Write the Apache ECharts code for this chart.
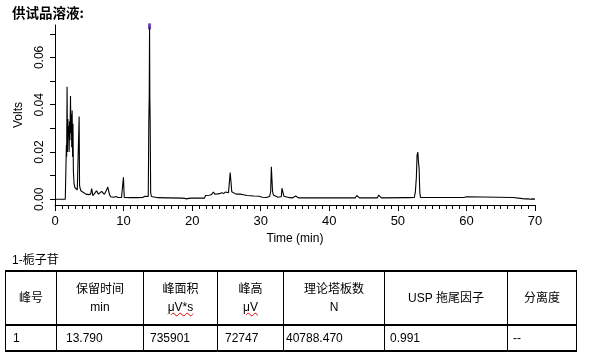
<!DOCTYPE html>
<html>
<head>
<meta charset="utf-8">
<script src="https://cdn.jsdelivr.net/npm/echarts@6/dist/echarts.min.js"></script>
<style>
  html, body { margin: 0; padding: 0; background: #fff; }
  #wrap { position: relative; width: 590px; height: 359px; overflow: hidden; }
  #chart { position: absolute; left: 0; top: 0; width: 590px; height: 359px; }
  .txt { position: absolute; font-family: "Liberation Sans", Arial, "Noto Sans CJK SC", sans-serif; color: #000; white-space: nowrap; }
  #title { left: 12px; top: 2px; font-size: 13.5px; font-weight: bold; font-family: "Noto Sans CJK SC", sans-serif; }
  #cmpd { left: 12px; top: 250px; font-size: 12px; }
  table { position: absolute; left: 5px; top: 270px; border-collapse: collapse; table-layout: fixed;
          font-family: "Liberation Sans", Arial, "Noto Sans CJK SC", sans-serif; font-size: 12px; color: #000; }
  td { border-left: 1px solid #000; border-right: 1px solid #000; border-top: 2px solid #000; border-bottom: 2px solid #000;
       padding: 0; overflow: hidden; white-space: nowrap; }
  tr.h td { height: 52px; text-align: center; line-height: 18px; }
  tr.d td { height: 24px; text-align: left; }
  .u { text-decoration: underline wavy #e00000; text-decoration-thickness: 1px; }
</style>
</head>
<body>
<div id="wrap">
  <div id="chart"></div>
  <div id="title" class="txt">供试品溶液:</div>
  <div id="cmpd" class="txt">1-栀子苷</div>
  <table id="tbl"></table>
</div>
<script>
// ---- chromatogram data ----
const times = [0, 1.5, 1.62, 1.66, 1.70, 1.76, 1.82, 1.88, 1.94, 2.00, 2.06, 2.12, 2.18, 2.26, 2.32, 2.38, 2.44, 2.50, 2.56, 2.62, 2.68, 2.78, 2.9, 3.05, 3.25, 3.45, 3.52, 3.58, 3.65, 3.8, 4.1, 4.5, 4.9, 5.2, 5.35, 5.45, 5.52, 5.8, 6.05, 6.2, 6.35, 6.6, 6.8, 7.0, 7.2, 7.45, 7.7, 7.85, 7.95, 8.1, 8.6, 8.9, 9.2, 9.7, 9.92, 9.98, 10.05, 10.1, 11, 12, 12.8, 13.1, 13.3, 13.6, 13.68, 13.74, 13.79, 13.83, 13.88, 13.95, 14.05, 14.3, 15, 16.3, 16.5, 16.7, 18.5, 18.7, 18.9, 19.2, 19.5, 20.0, 21.0, 21.8, 21.95, 22.2, 22.5, 22.8, 23.1, 23.3, 23.7, 24.0, 24.3, 24.6, 24.9, 25.3, 25.5, 25.55, 25.62, 25.72, 25.78, 26.0, 26.4, 27.0, 27.5, 28.0, 29.0, 29.8, 30.2, 30.8, 31.3, 31.45, 31.55, 31.65, 31.72, 31.85, 32.5, 33.0, 33.1, 33.3, 33.38, 33.6, 34.2, 34.4, 34.6, 35.1, 35.3, 35.5, 40, 43.8, 44.0, 44.2, 44.4, 47.0, 47.2, 47.4, 47.6, 51.3, 51.45, 51.6, 52.4, 52.55, 52.7, 52.8, 52.92, 53.0, 53.1, 53.2, 53.3, 59.6, 59.8, 60.0, 60.2, 66.8, 67.0, 68.2, 68.4, 68.6, 68.8, 69.0, 69.3, 69.6, 70];
const volts = [0, 0, 0.0005, 0.023, 0.018, 0.0476, 0.020, 0.034, 0.026, 0.031, 0.020, 0.033, 0.025, 0.0437, 0.028, 0.036, 0.022, 0.0375, 0.018, 0.032, 0.012, 0.0065, 0.005, 0.0045, 0.004, 0.0045, 0.035, 0.006, 0.0048, 0.0035, 0.003, 0.0022, 0.002, 0.0022, 0.0045, 0.0044, 0.0015, 0.0013, 0.0036, 0.0033, 0.0022, 0.0026, 0.0034, 0.0028, 0.0021, 0.0035, 0.0052, 0.0056, 0.002, 0.0011, 0.0009, 0.0012, 0.0008, 0.0008, 0.0009, 0.0093, 0.009, 0.0008, 0.0007, 0.0007, 0.0008, 0.0013, 0.0009, 0.0012, 0.033, 0.043, 0.0730, 0.043, 0.033, 0.003, 0.0012, 0.0007, 0.0007, 0.0006, 0.0009, 0.0006, 0.0005, 0.0008, 0.0004, 0.0002, 0.0004, 0.0005, 0.0005, 0.0005, 0.0016, 0.0021, 0.0017, 0.002, 0.0031, 0.0022, 0.0023, 0.0024, 0.0028, 0.0025, 0.0031, 0.0028, 0.003, 0.0113, 0.0089, 0.0089, 0.0032, 0.0025, 0.0022, 0.0022, 0.0019, 0.0016, 0.0014, 0.0013, 0.0009, 0.0008, 0.0012, 0.0032, 0.0138, 0.0142, 0.0035, 0.0018, 0.0009, 0.0011, 0.0047, 0.0047, 0.0013, 0.0008, 0.0007, 0.0012, 0.0006, 0.0014, 0.0014, 0.0006, 0.0006, 0.0006, 0.0016, 0.0016, 0.0006, 0.0006, 0.0018, 0.0017, 0.0006, 0.0007, 0.0014, 0.0007, 0.0008, 0.003, 0.0093, 0.0187, 0.0199, 0.016, 0.013, 0.003, 0.0008, 0.0008, 0.0013, 0.0011, 0.0008, 0.0008, 0.0003, 0.0003, 0.0, 0.0002, 0.0, 0.0002, 0.0, 0.0002, 0.0001];
const peakMarkT = [13.79];
const peakMarkV = [0.0731];

// ---- axis ticks ----
const yTickValues = [0, 0.01, 0.02, 0.03, 0.04, 0.05, 0.06, 0.07];
const yLabelValues = [0, 0.02, 0.04, 0.06];

// ---- table ----
const compoundName = '1-栀子苷';
const headTop = ['峰号', '保留时间', '峰面积', '峰高', '理论塔板数', 'USP 拖尾因子', '分离度'];
const headUnit = ['', 'min', 'μV*s', 'μV', 'N', '', ''];
const rowVals = ['1', '13.790', '735901', '72747', '40788.470', '0.991', '--'];
const colWidths = [51, 87, 74, 66, 101, 123, 69];
const padLeft = [7, 9, 6, 7, 2, 5, 5];

(function buildTable() {
  const t = document.getElementById('tbl');
  let html = '<colgroup>' + colWidths.map(w => '<col style="width:' + w + 'px">').join('') + '</colgroup>';
  html += '<tr class="h">' + headTop.map((h, i) => {
    const unit = headUnit[i];
    let u = unit;
    if (unit.indexOf('μV') === 0) u = '<span class="u">' + unit + '</span>';
    return '<td><div>' + h + '</div>' + (unit ? '<div>' + u + '</div>' : '') + '</td>';
  }).join('') + '</tr>';
  html += '<tr class="d">' + rowVals.map((v, i) => '<td style="padding-left:' + padLeft[i] + 'px">' + v + '</td>').join('') + '</tr>';
  t.innerHTML = html;
  document.getElementById('cmpd').textContent = compoundName;
})();

const chart = echarts.init(document.getElementById('chart'), null, { renderer: 'canvas' });
const lineData = times.map((t, i) => [t, volts[i]]);
const markData = peakMarkT.map((t, i) => [t, peakMarkV[i]]);
const font = '"Liberation Sans", Arial, sans-serif';

chart.setOption({
  animation: false,
  backgroundColor: '#fff',
  grid: { left: 55, right: 55, top: 25, bottom: 154, containLabel: false },
  xAxis: {
    type: 'value', min: 0, max: 70, interval: 10,
    name: 'Time (min)', nameLocation: 'middle', nameGap: 28,
    nameTextStyle: { color: '#000', fontSize: 12, fontFamily: font },
    axisLine: { show: true, onZero: false, lineStyle: { color: '#000', width: 1 } },
    axisTick: { show: true, length: 6, lineStyle: { color: '#000' } },
    minorTick: { show: true, splitNumber: 10, length: 4, lineStyle: { color: '#000' } },
    axisLabel: { color: '#000', fontSize: 13, fontFamily: font, margin: 10 },
    splitLine: { show: false }, minorSplitLine: { show: false }
  },
  yAxis: {
    type: 'value', min: -0.0024, max: 0.0737,
    name: 'Volts', nameLocation: 'middle', nameGap: 30, nameRotate: 90,
    nameTextStyle: { color: '#000', fontSize: 12, fontFamily: font },
    axisLine: { show: true, onZero: false, lineStyle: { color: '#000', width: 1 } },
    axisTick: { show: true, length: 5, customValues: yTickValues, lineStyle: { color: '#000' } },
    axisLabel: { color: '#000', fontSize: 12, fontFamily: font, rotate: 90, margin: 9,
                 customValues: yLabelValues, formatter: v => v.toFixed(2) },
    splitLine: { show: false }
  },
  series: [
    {
      type: 'line', data: lineData, showSymbol: false, symbol: 'none',
      lineStyle: { color: '#000', width: 1.1 }, silent: true, z: 2
    },
    {
      type: 'scatter', data: markData, symbol: 'rect', symbolSize: [3, 6],
      itemStyle: { color: '#4b1a9c' }, silent: true, z: 3
    }
  ]
});
</script>
</body>
</html>
